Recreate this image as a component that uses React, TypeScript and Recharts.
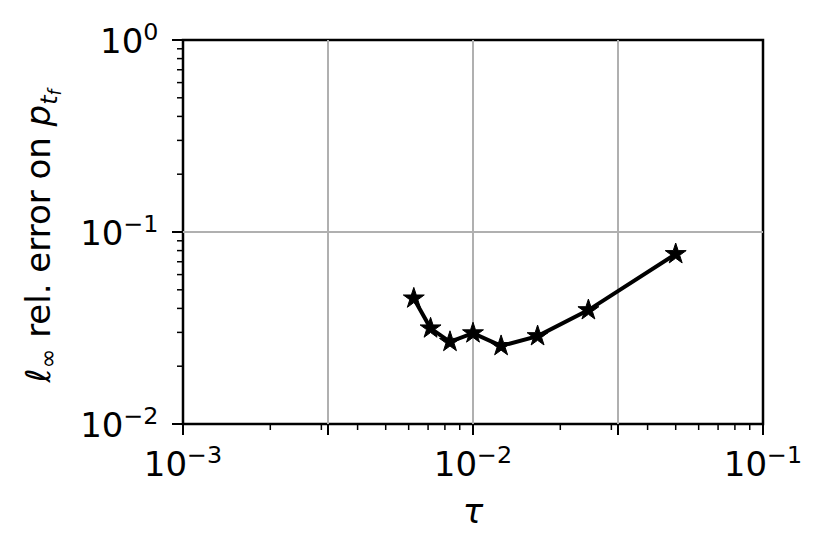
import { ComposedChart, Line, XAxis, YAxis, ReferenceLine, ReferenceArea } from 'recharts'

// time step tau and the l-inf relative error
const tau = [0.00625, 0.00714, 0.00833, 0.01, 0.0125, 0.0167, 0.025, 0.05]
const relErr = [0.0451, 0.0315, 0.0268, 0.0297, 0.0255, 0.0287, 0.0392, 0.0768]

const xTicks = [
  0.001, 0.002, 0.003, 0.0031623, 0.004, 0.005, 0.006, 0.007, 0.008, 0.009,
  0.01, 0.02, 0.03, 0.031623, 0.04, 0.05, 0.06, 0.07, 0.08, 0.09, 0.1,
]
const yTicks = [
  0.01, 0.02, 0.03, 0.04, 0.05, 0.06, 0.07, 0.08, 0.09,
  0.1, 0.2, 0.3, 0.4, 0.5, 0.6, 0.7, 0.8, 0.9, 1,
]
// interior grid lines; the edges are covered by the frame
const xGrid = [0.0031623, 0.01, 0.031623]
const yGrid = [0.1]

const data = tau.map((t, i) => ({ tau: t, err: relErr[i] }))

const FONT = 'DejaVu Sans, sans-serif'
const FS = 34

const isDecade = (v: number) => Math.abs(Math.log10(v) - Math.round(Math.log10(v))) < 1e-6
const isHalf = (v: number) => Math.abs(Math.log10(v) * 2 - Math.round(Math.log10(v) * 2)) < 1e-3

function Pow({ v }: { v: number }) {
  const e = Math.round(Math.log10(v))
  return (
    <>
      10
      <tspan fontSize={FS * 0.7} dy={-13}>
        {e < 0 ? `\u2212${-e}` : e}
      </tspan>
    </>
  )
}

function XTick({ x, y, payload }: any) {
  const v = payload.value
  const big = isHalf(v)
  const len = big ? 11 : 6
  return (
    <g>
      <line x1={x} x2={x} y1={y} y2={y + len} stroke="#000" strokeWidth={big ? 2 : 1.5} />
      {isDecade(v) && (
        <text x={x} y={y + 52} textAnchor="middle" fontFamily={FONT} fontSize={FS} fill="#000">
          <Pow v={v} />
        </text>
      )}
    </g>
  )
}

function YTick({ x, y, payload }: any) {
  const v = payload.value
  const big = isDecade(v)
  const len = big ? 11 : 6
  return (
    <g>
      <line x1={x} x2={x - len} y1={y} y2={y} stroke="#000" strokeWidth={big ? 2 : 1.5} />
      {big && (
        <text x={x - 24.5} y={y + 13} textAnchor="end" fontFamily={FONT} fontSize={FS} fill="#000">
          <Pow v={v} />
        </text>
      )}
    </g>
  )
}

function Star({ cx, cy }: any) {
  const R = 11
  const r = R * 0.382
  const pts: string[] = []
  for (let k = 0; k < 10; k++) {
    const a = -Math.PI / 2 + (k * Math.PI) / 5
    const rr = k % 2 === 0 ? R : r
    pts.push(`${cx + rr * Math.cos(a)},${cy + rr * Math.sin(a)}`)
  }
  return <polygon points={pts.join(' ')} fill="#000" stroke="#000" strokeWidth={1} />
}

export default function App() {
  return (
    <div style={{ position: 'absolute', left: 0, top: 0, background: '#fff' }}>
      <ComposedChart
        width={830}
        height={559}
        data={data}
        margin={{ top: 40, right: 67, bottom: 0, left: 0 }}
      >
        <XAxis
          dataKey="tau"
          type="number"
          scale="log"
          domain={[0.001, 0.1]}
          ticks={xTicks}
          interval={0}
          height={135}
          tickSize={0}
          tickMargin={0}
          axisLine={false}
          tickLine={false}
          tick={(p: any) => <XTick {...p} />}
          allowDataOverflow
          label={{
            content: ({ viewBox }: any) => (
              <text
                x={viewBox.x + viewBox.width / 2}
                y={viewBox.y + 99}
                textAnchor="middle"
                fontFamily={FONT}
                fontSize={FS}
                fontStyle="italic"
                fill="#000"
              >
                τ
              </text>
            ),
          }}
        />
        <YAxis
          dataKey="err"
          type="number"
          scale="log"
          domain={[0.01, 1]}
          ticks={yTicks}
          interval={0}
          width={183}
          tickSize={0}
          tickMargin={0}
          axisLine={false}
          tickLine={false}
          tick={(p: any) => <YTick {...p} />}
          allowDataOverflow
          label={{
            content: ({ viewBox }: any) => {
              const cx = viewBox.x + viewBox.width - 133
              const cy = viewBox.y + viewBox.height / 2 + 4
              return (
                <text
                  x={cx}
                  y={cy}
                  transform={`rotate(-90, ${cx}, ${cy})`}
                  textAnchor="middle"
                  fontFamily={FONT}
                  fontSize={FS}
                  fill="#000"
                >
                  <tspan fontStyle="italic">ℓ</tspan>
                  <tspan fontSize={FS * 0.7} dy={6}>∞</tspan>
                  <tspan dy={-6}>{' rel. error on '}</tspan>
                  <tspan fontStyle="italic">p</tspan>
                  <tspan fontStyle="italic" fontSize={FS * 0.7} dy={7}>t</tspan>
                  <tspan fontStyle="italic" fontSize={FS * 0.5} dy={4}>f</tspan>
                </text>
              )
            },
          }}
        />
        {xGrid.map((g) => (
          <ReferenceLine key={`gx${g}`} x={g} stroke="#b0b0b0" strokeWidth={2} />
        ))}
        {yGrid.map((g) => (
          <ReferenceLine key={`gy${g}`} y={g} stroke="#b0b0b0" strokeWidth={2} />
        ))}
        <ReferenceArea x1={0.001} x2={0.1} y1={0.01} y2={1} fill="none" fillOpacity={0} stroke="#000" strokeWidth={2.5} />
        <Line
          dataKey="err"
          stroke="#000"
          strokeWidth={4}
          dot={(p: any) => <Star key={`s${p.index}`} cx={p.cx} cy={p.cy} />}
          isAnimationActive={false}
        />
      </ComposedChart>
    </div>
  )
}
